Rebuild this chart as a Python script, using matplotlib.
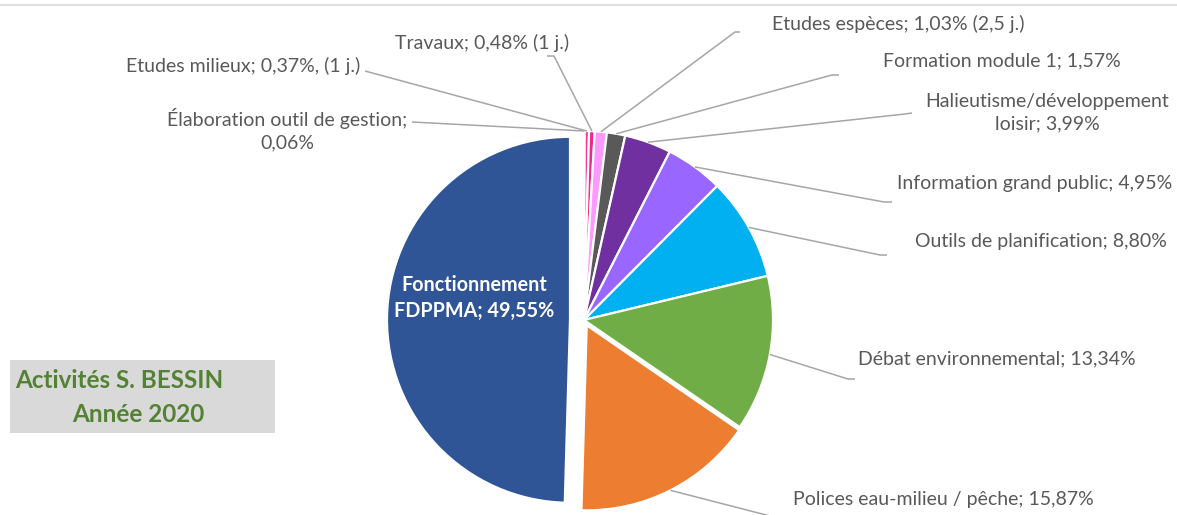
import numpy as np
import matplotlib.pyplot as plt
from matplotlib.patches import Rectangle

W, H = 1177, 515

# parts of the year (percent), clockwise from 12 o'clock
categories = ["Élaboration outil de gestion", "Etudes milieux", "Travaux", "Etudes espèces",
              "Formation module 1", "Halieutisme/développement loisir",
              "Information grand public", "Outils de planification",
              "Débat environnemental", "Polices eau-milieu / pêche", "Fonctionnement FDPPMA"]
shares = [0.06, 0.37, 0.48, 1.03, 1.57, 3.99, 4.95, 8.80, 13.34, 15.87, 49.55]
label_texts = ["Élaboration outil de gestion;\n0,06%",
               "Etudes milieux; 0,37%, (1 j.)",
               "Travaux; 0,48% (1 j.)",
               "Etudes espèces; 1,03% (2,5 j.)",
               "Formation module 1; 1,57%",
               "Halieutisme/développement\nloisir; 3,99%",
               "Information grand public; 4,95%",
               "Outils de planification; 8,80%",
               "Débat environnemental; 13,34%",
               "Polices eau-milieu / pêche; 15,87%",
               "Fonctionnement\nFDPPMA; 49,55%"]
colors = ["#9DC3E6", "#F03C96", "#F0288C", "#FF99FF", "#595959", "#7030A0",
          "#9966FF", "#00B0F0", "#70AD47", "#ED7D31", "#2F5597"]
explode_px = [0, 0, 0, 0, 0, 0, 0, 0, 0, 6, 14]
radius_px = [189, 189, 189, 189, 189, 189, 189, 189, 189, 185, 183]

cx, cy, R = 584, H - 320, 189

plt.rcParams['font.family'] = ['Lato', 'DejaVu Sans']
fig = plt.figure(figsize=(W / 100, H / 100), dpi=100)
ax = fig.add_axes([0, 0, 1, 1])

wedges, _ = ax.pie(shares, center=(cx, cy), radius=R, startangle=90, counterclock=False,
                   colors=colors, wedgeprops=dict(edgecolor="white", linewidth=1.6))

cum = np.cumsum([0] + shares[:-1])
mids = np.radians((cum + np.array(shares) / 2) / 100 * 360)  # clockwise from top

# pull slices out along their middle direction
for w, e, r, t in zip(wedges, explode_px, radius_px, mids):
    if e:
        w.set_center((cx + e * np.sin(t), cy + e * np.cos(t)))
    w.set_radius(r)

# label placement: (x, y, ha) in pixel coords from top, plus leader elbow points
label_pos = [
    (287, 130, "center", [(412, 122)]),
    (360, 66, "right", [(365, 71)]),
    (482, 43, "center", [(547, 56), (554, 56)]),
    (772, 24, "left", [(740, 32), (735, 32)]),
    (883, 61, "left", [(839, 75), (832, 75)]),
    (1047, 113, "center", [(912, 113), (905, 114)]),
    (897, 184, "left", [(892, 202), (884, 202)]),
    (915, 241, "left", [(887, 255), (880, 255)]),
    (858, 359, "left", [(855, 379), (848, 379)]),
    (793, 500, "left", [(770, 516)]),
]

txt_color = "#595959"
for i, (lx, ly, ha, elbow) in enumerate(label_pos):
    ax.text(lx, H - ly, label_texts[i], ha=ha, va="center", multialignment="center",
            fontsize=14, color=txt_color, linespacing=1.4)
    rr = radius_px[i] + explode_px[i]
    wx = cx + rr * np.sin(mids[i])
    wy = cy + rr * np.cos(mids[i])
    xs = [p[0] for p in elbow] + [wx]
    ys = [H - p[1] for p in elbow] + [wy]
    ax.plot(xs, ys, color="#A6A6A6", lw=1.1, solid_capstyle="butt")

ax.text(474, H - 298, label_texts[-1], ha="center", va="center", multialignment="center",
        fontsize=14.2, color="white", fontweight="bold", linespacing=1.42)

# title box
ax.add_patch(Rectangle((10, H - 433), 265, 73, facecolor="#D9D9D9", edgecolor="none"))
ax.text(15, H - 381, "Activités S. BESSIN", ha="left", va="center",
        fontsize=17.5, fontweight="bold", color="#548235")
ax.text(72, H - 414, "Année 2020", ha="left", va="center",
        fontsize=17.5, fontweight="bold", color="#548235")

ax.plot([0, W], [H - 5, H - 5], color="#D9D9D9", lw=1.2)

ax.set_xlim(0, W)
ax.set_ylim(0, H)
ax.set_aspect("equal")
ax.axis("off")
fig.savefig("out.png", dpi=100)
